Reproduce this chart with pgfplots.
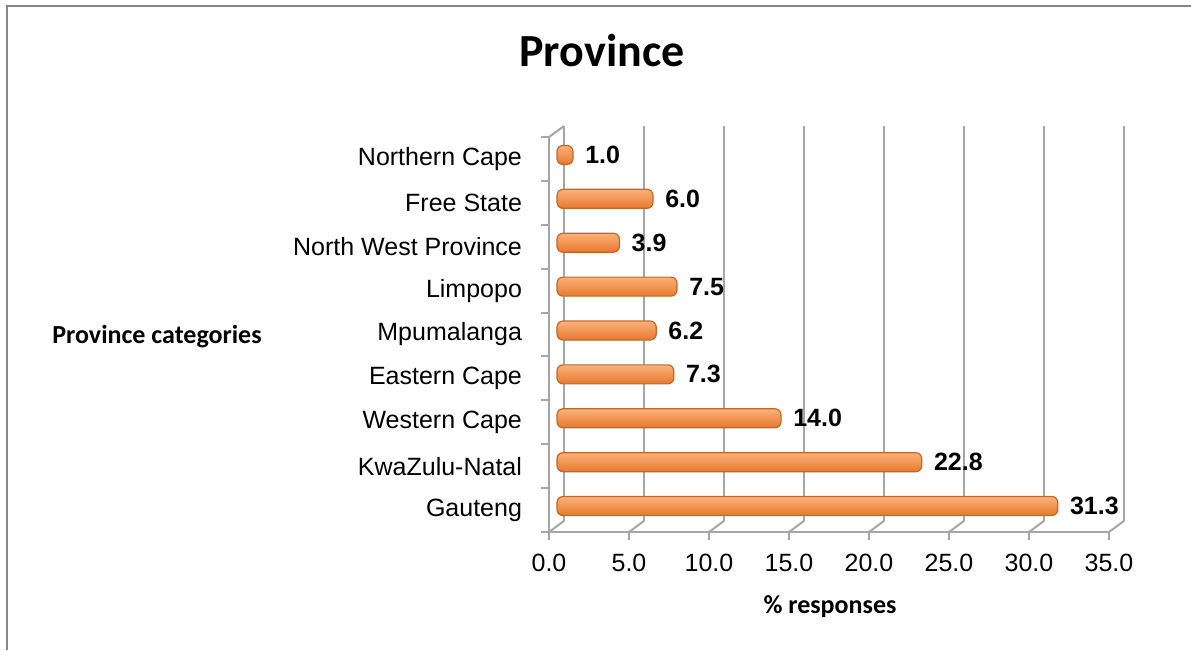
\documentclass[border=0pt]{standalone}
\usepackage{pgfplots}
\pgfplotsset{compat=1.18}
\usepackage{fontspec}
\setmainfont{Liberation Sans}
\newfontfamily\calibri{Carlito}
\definecolor{gridgray}{HTML}{A6A6A6}
\definecolor{framegray}{HTML}{888888}
\definecolor{barmid}{HTML}{F79646}
\definecolor{bartop}{HTML}{FAB27C}
\definecolor{barbot}{HTML}{E8782C}
\definecolor{baredge}{HTML}{C0682A}
\begin{document}
\begin{tikzpicture}
\useasboundingbox (0,0) rectangle (595.5pt,325pt);
\draw[framegray, line width=1.2pt] (3.5pt,0) -- (3.5pt,322pt) -- (595.5pt,322pt);
\node[font=\calibri\bfseries\fontsize{23}{27}\selectfont, anchor=base] at (301pt,292pt) {Province};
\node[font=\calibri\bfseries\fontsize{13}{15}\selectfont, anchor=base] at (78.5pt,153.5pt) {Province categories};
\node[font=\calibri\bfseries\fontsize{13}{15}\selectfont, anchor=base] at (415pt,18.5pt) {\% responses};
\begin{axis}[
  at={(274.5pt,59pt)}, anchor=south west,
  scale only axis, width=280pt, height=197.5pt,
  xmin=0, xmax=35, ymin=-0.5, ymax=8.5,
  axis x line*=bottom, axis y line*=left,
  axis line style={gridgray, line width=1pt},
  clip=false,
  xtick={0,5,...,35},
  ytick={0,...,8},
  yticklabels={Gauteng,KwaZulu-Natal,Western Cape,Eastern Cape,Mpumalanga,Limpopo,North West Province,Free State,Northern Cape},
  minor ytick={-0.5,0.5,...,8.5},
  every major y tick/.style={draw=none},
  tick align=outside,
  major tick length=4pt, minor tick length=4pt,
  tick style={gridgray, line width=1pt},
  minor tick style={gridgray, line width=1pt},
  ticklabel style={font=\fontsize{12.5}{15}\selectfont},
  xticklabel style={yshift=-3.5pt, /pgf/number format/.cd, fixed, fixed zerofill, precision=1},
  yticklabel style={xshift=-6pt},
  /pgf/number format/assume math mode=true,
  xbar, bar width=9.5pt, bar shift=0pt,
  point meta=x,
  nodes near coords={\pgfmathprintnumber[fixed,fixed zerofill,precision=1]{\pgfplotspointmeta}},
  every node near coord/.append style={font=\bfseries\fontsize{12.5}{15}\selectfont, anchor=west, xshift=2.5pt, black},
  mybar/.style={xshift=4pt, yshift=2pt, draw=baredge, line width=0.6pt, rounded corners=3pt,
    top color=bartop, middle color=barmid, bottom color=barbot},
]
\pgfplotsinvokeforeach{0,5,10,15,20,25,30,35}{
  \draw[gridgray, line width=1.2pt] ([shift={(7.5pt,5.5pt)}]axis cs:#1,-0.5) -- ([shift={(7.5pt,5.5pt)}]axis cs:#1,8.5);
  \draw[gridgray, line width=1pt] (axis cs:#1,-0.5) -- ([shift={(7.5pt,5.5pt)}]axis cs:#1,-0.5);
}
\draw[gridgray, line width=1pt] (axis cs:0,8.5) -- ([shift={(7.5pt,5.5pt)}]axis cs:0,8.5);
\addplot[mybar] coordinates {(31.3,0)};
\addplot[mybar] coordinates {(22.8,1)};
\addplot[mybar] coordinates {(14.0,2)};
\addplot[mybar] coordinates {(7.3,3)};
\addplot[mybar] coordinates {(6.2,4)};
\addplot[mybar] coordinates {(7.5,5)};
\addplot[mybar] coordinates {(3.9,6)};
\addplot[mybar] coordinates {(6.0,7)};
\addplot[mybar] coordinates {(1.0,8)};
\end{axis}
\end{tikzpicture}
\end{document}
